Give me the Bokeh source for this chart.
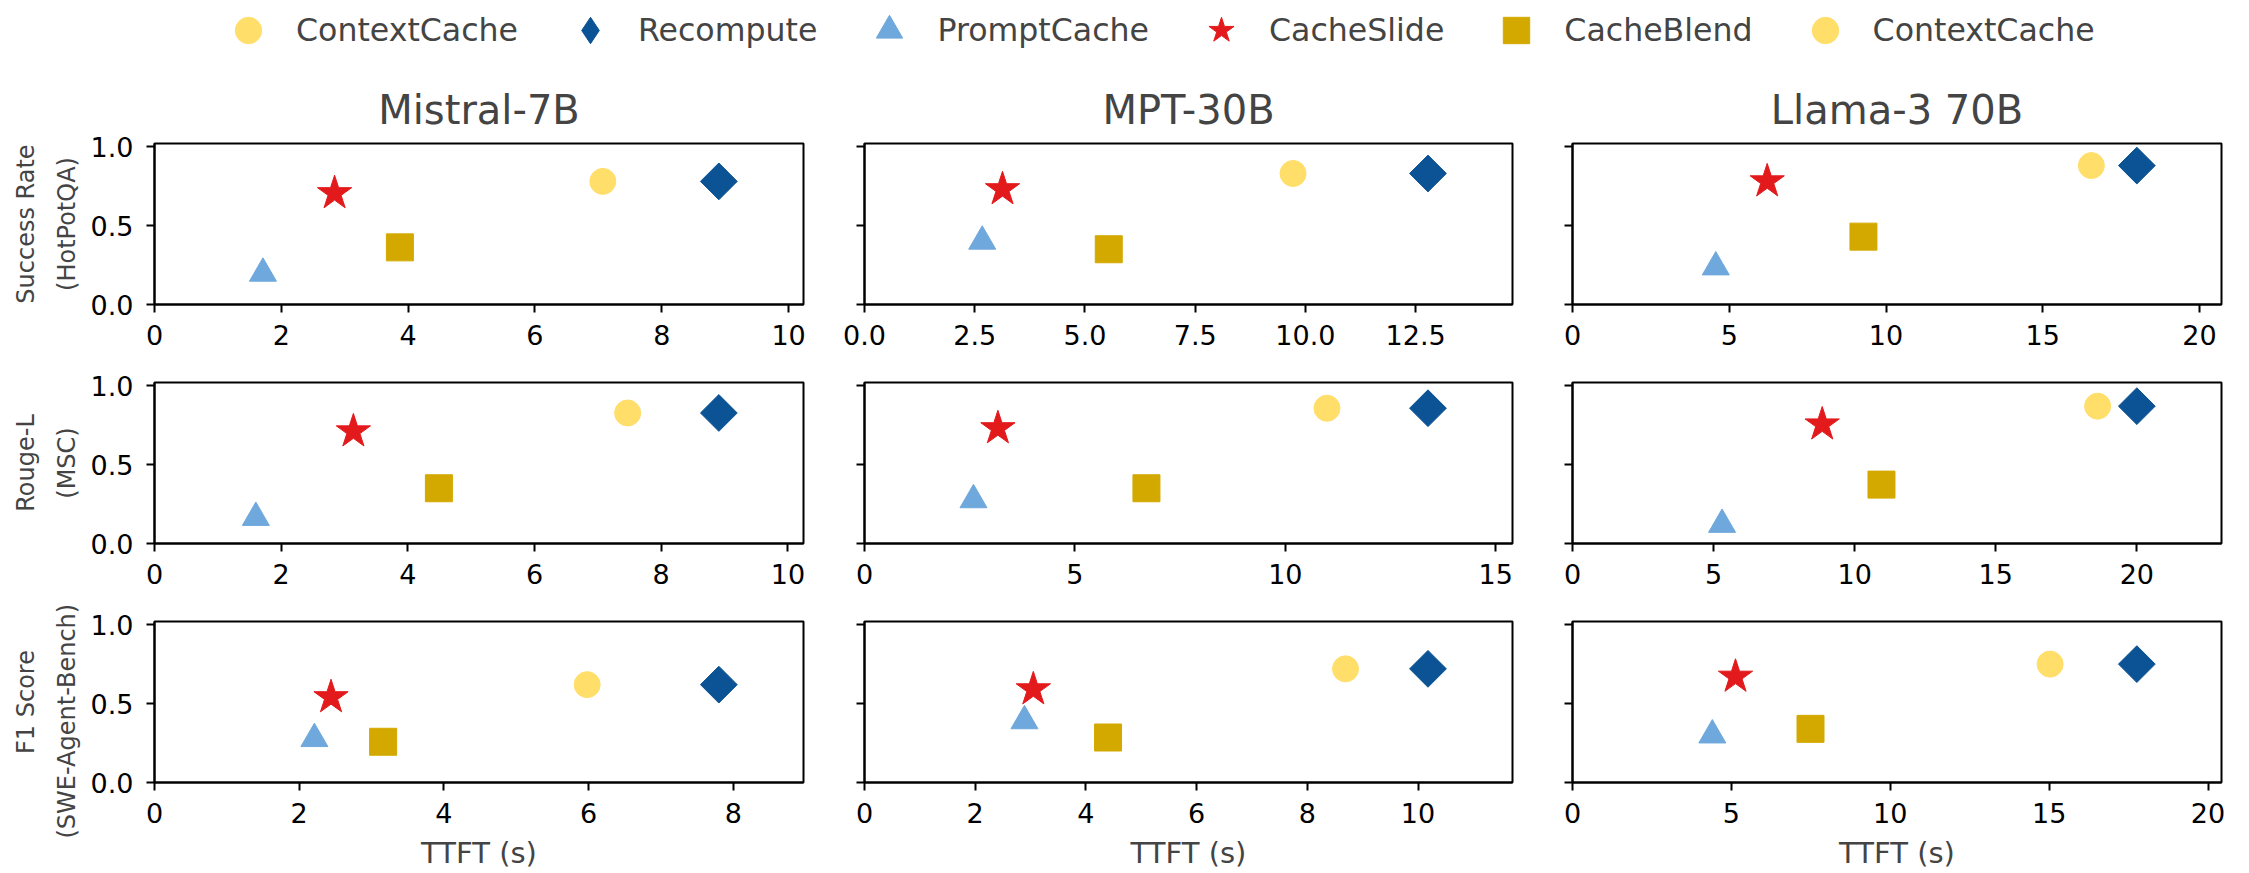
import numpy as np
from bokeh.plotting import figure
from bokeh.models import (ColumnDataSource, CDSView, GroupFilter, Legend, LegendItem,
                          FixedTicker, Range1d, Title, CustomJSTickFormatter,
                          PrintfTickFormatter)
from bokeh.layouts import column, row
from bokeh.embed import file_html
from bokeh.resources import INLINE

methods = ["ContextCache", "Recompute", "PromptCache", "CacheSlide", "CacheBlend"]
legend_labels = ["ContextCache", "Recompute", "PromptCache", "CacheSlide", "CacheBlend", "ContextCache"]
models = ["Mistral-7B", "MPT-30B", "Llama-3 70B"]
metric_names = ["Success Rate", "Rouge-L", "F1 Score"]
datasets = ["(HotPotQA)", "(MSC)", "(SWE-Agent-Bench)"]

# TTFT (s) and quality, in the order of `methods`
mistral_hotpot_ttft = [7.07, 8.90, 1.71, 2.84, 3.87]
mistral_hotpot_score = [0.78, 0.78, 0.197, 0.705, 0.362]
mpt_hotpot_ttft = [9.72, 12.78, 2.67, 3.13, 5.54]
mpt_hotpot_score = [0.83, 0.83, 0.40, 0.73, 0.35]
llama_hotpot_ttft = [16.55, 18.0, 4.57, 6.21, 9.28]
llama_hotpot_score = [0.88, 0.88, 0.237, 0.78, 0.43]

mistral_msc_ttft = [7.47, 8.91, 1.60, 3.14, 4.49]
mistral_msc_score = [0.827, 0.827, 0.164, 0.71, 0.35]
mpt_msc_ttft = [10.99, 13.39, 2.59, 3.17, 6.70]
mpt_msc_score = [0.857, 0.857, 0.276, 0.73, 0.35]
llama_msc_ttft = [18.61, 20.0, 5.30, 8.85, 10.95]
llama_msc_score = [0.87, 0.87, 0.12, 0.754, 0.373]

mistral_swe_ttft = [5.98, 7.80, 2.21, 2.44, 3.16]
mistral_swe_score = [0.62, 0.62, 0.277, 0.54, 0.258]
mpt_swe_ttft = [8.69, 10.18, 2.89, 3.05, 4.40]
mpt_swe_score = [0.72, 0.72, 0.39, 0.59, 0.285]
llama_swe_ttft = [15.03, 17.76, 4.40, 5.13, 7.49]
llama_swe_score = [0.75, 0.75, 0.30, 0.67, 0.34]

ttft = [[mistral_hotpot_ttft, mpt_hotpot_ttft, llama_hotpot_ttft],
        [mistral_msc_ttft, mpt_msc_ttft, llama_msc_ttft],
        [mistral_swe_ttft, mpt_swe_ttft, llama_swe_ttft]]
score = [[mistral_hotpot_score, mpt_hotpot_score, llama_hotpot_score],
         [mistral_msc_score, mpt_msc_score, llama_msc_score],
         [mistral_swe_score, mpt_swe_score, llama_swe_score]]

xticks = [[[0, 2, 4, 6, 8, 10], [0, 2.5, 5, 7.5, 10, 12.5], [0, 5, 10, 15, 20]],
          [[0, 2, 4, 6, 8, 10], [0, 5, 10, 15], [0, 5, 10, 15, 20]],
          [[0, 2, 4, 6, 8], [0, 2, 4, 6, 8, 10], [0, 5, 10, 15, 20]]]
xtick_fmt = [["%d", "%.1f", "%d"], ["%d", "%d", "%d"], ["%d", "%d", "%d"]]
yticks = [0, 0.5, 1.0]

style = {
    "ContextCache": dict(marker="circle", color="#FFDE6A", size=26, angle=0),
    "Recompute": dict(marker="square", color="#0B5394", size=26, angle=np.pi / 4),
    "PromptCache": dict(marker="triangle", color="#6FA8DC", size=27, angle=0),
    "CacheSlide": dict(marker="star", color="#E31A1C", size=36, angle=0),
    "CacheBlend": dict(marker="square", color="#D3A900", size=27, angle=0),
}
# the legend draws markers unrotated, so the rotated square shows as a diamond there
legend_marker = {"Recompute": "diamond"}

FONT = "DejaVu Sans"
col_left = [154, 41, 40]
col_right = [20, 20, 20]
col_frame = [649, 648, 649]
row_top = [71, 22, 22]
row_bottom = [56, 56, 90]
frame_h = 161

# legend strip on top (its renderers sit outside the visible range)
leg = figure(width=2241, height=72, x_axis_location=None, y_axis_location=None,
             toolbar_location=None, output_backend="svg", min_border=0,
             x_range=Range1d(-2, -1), y_range=Range1d(-2, -1))
leg.outline_line_color = None
leg.grid.visible = False
dummy = {}
for i, m in enumerate(methods):
    st = style[m]
    dummy[m] = leg.scatter(x=[mistral_hotpot_ttft[i]], y=[mistral_hotpot_score[i]],
                           marker=legend_marker.get(m, st["marker"]), size=st["size"],
                           fill_color=st["color"], line_color=st["color"])
items = [LegendItem(label=lab, renderers=[dummy[lab]]) for lab in legend_labels]
legend = Legend(items=items, orientation="horizontal", location=(215, 9),
                glyph_width=66, glyph_height=66, label_standoff=15, spacing=39,
                padding=0, margin=0, border_line_alpha=0, background_fill_alpha=0,
                label_text_font_size="31.6px", label_text_font=FONT)
leg.add_layout(legend)

rows = []
for r in range(3):
    figs = []
    for c in range(3):
        src = ColumnDataSource(dict(method=methods, ttft=ttft[r][c], score=score[r][c]))
        p = figure(width=col_left[c] + col_frame[c] + col_right[c],
                   height=row_top[r] + frame_h + row_bottom[r],
                   x_range=Range1d(0, max(ttft[r][c]) * 1.15), y_range=Range1d(0, 1.02),
                   toolbar_location=None, output_backend="svg",
                   min_border_left=col_left[c], min_border_right=col_right[c],
                   min_border_top=row_top[r], min_border_bottom=row_bottom[r])
        for m in methods:
            st = style[m]
            view = CDSView(filter=GroupFilter(column_name="method", group=m))
            p.scatter(x="ttft", y="score", source=src, view=view, marker=st["marker"],
                      size=st["size"], angle=st["angle"], fill_color=st["color"],
                      line_color=st["color"])
        p.grid.visible = False
        p.outline_line_color = "black"
        p.outline_line_width = 2
        p.outline_line_alpha = 1
        p.xaxis.ticker = FixedTicker(ticks=xticks[r][c])
        p.xaxis.formatter = PrintfTickFormatter(format=xtick_fmt[r][c])
        p.yaxis.ticker = FixedTicker(ticks=yticks)
        p.axis.axis_line_width = 2
        p.axis.major_tick_line_width = 2
        p.axis.major_tick_out = 8
        p.axis.major_tick_in = 0
        p.axis.minor_tick_out = 0
        p.axis.minor_tick_in = 0
        p.axis.major_label_text_font = FONT
        p.axis.major_label_text_font_size = "27px"
        p.axis.major_label_text_color = "black"
        p.xaxis.major_label_standoff = 12
        p.yaxis.major_label_standoff = 13
        if c > 0:
            p.yaxis.formatter = CustomJSTickFormatter(code="return ''")
        else:
            p.yaxis.formatter = PrintfTickFormatter(format="%.1f")
            if len(datasets[r]) > 12:
                # too long for the strip above the frame: anchor it lower down
                inner = Title(text=datasets[r], align="left", offset=-56)
            else:
                inner = Title(text=datasets[r], align="center")
            outer = Title(text=metric_names[r], align="center")
            for t, gap in ((inner, 14), (outer, 7)):
                t.text_font = FONT
                t.text_font_size = "24px"
                t.text_font_style = "normal"
                t.standoff = gap
                p.add_layout(t, "left")
        if r == 0:
            p.title.text = models[c]
            p.title.align = "center"
            p.title.text_font = FONT
            p.title.text_font_size = "40px"
            p.title.text_font_style = "normal"
            p.title.standoff = 21
        if r == 2:
            p.xaxis.axis_label = "TTFT (s)"
            p.xaxis.axis_label_text_font = FONT
            p.xaxis.axis_label_text_font_size = "29px"
            p.xaxis.axis_label_text_font_style = "normal"
            p.xaxis.axis_label_standoff = 10
        figs.append(p)
    rows.append(row(*figs))

layout = column(leg, *rows)
open("out.html", "w").write(file_html(layout, INLINE))
